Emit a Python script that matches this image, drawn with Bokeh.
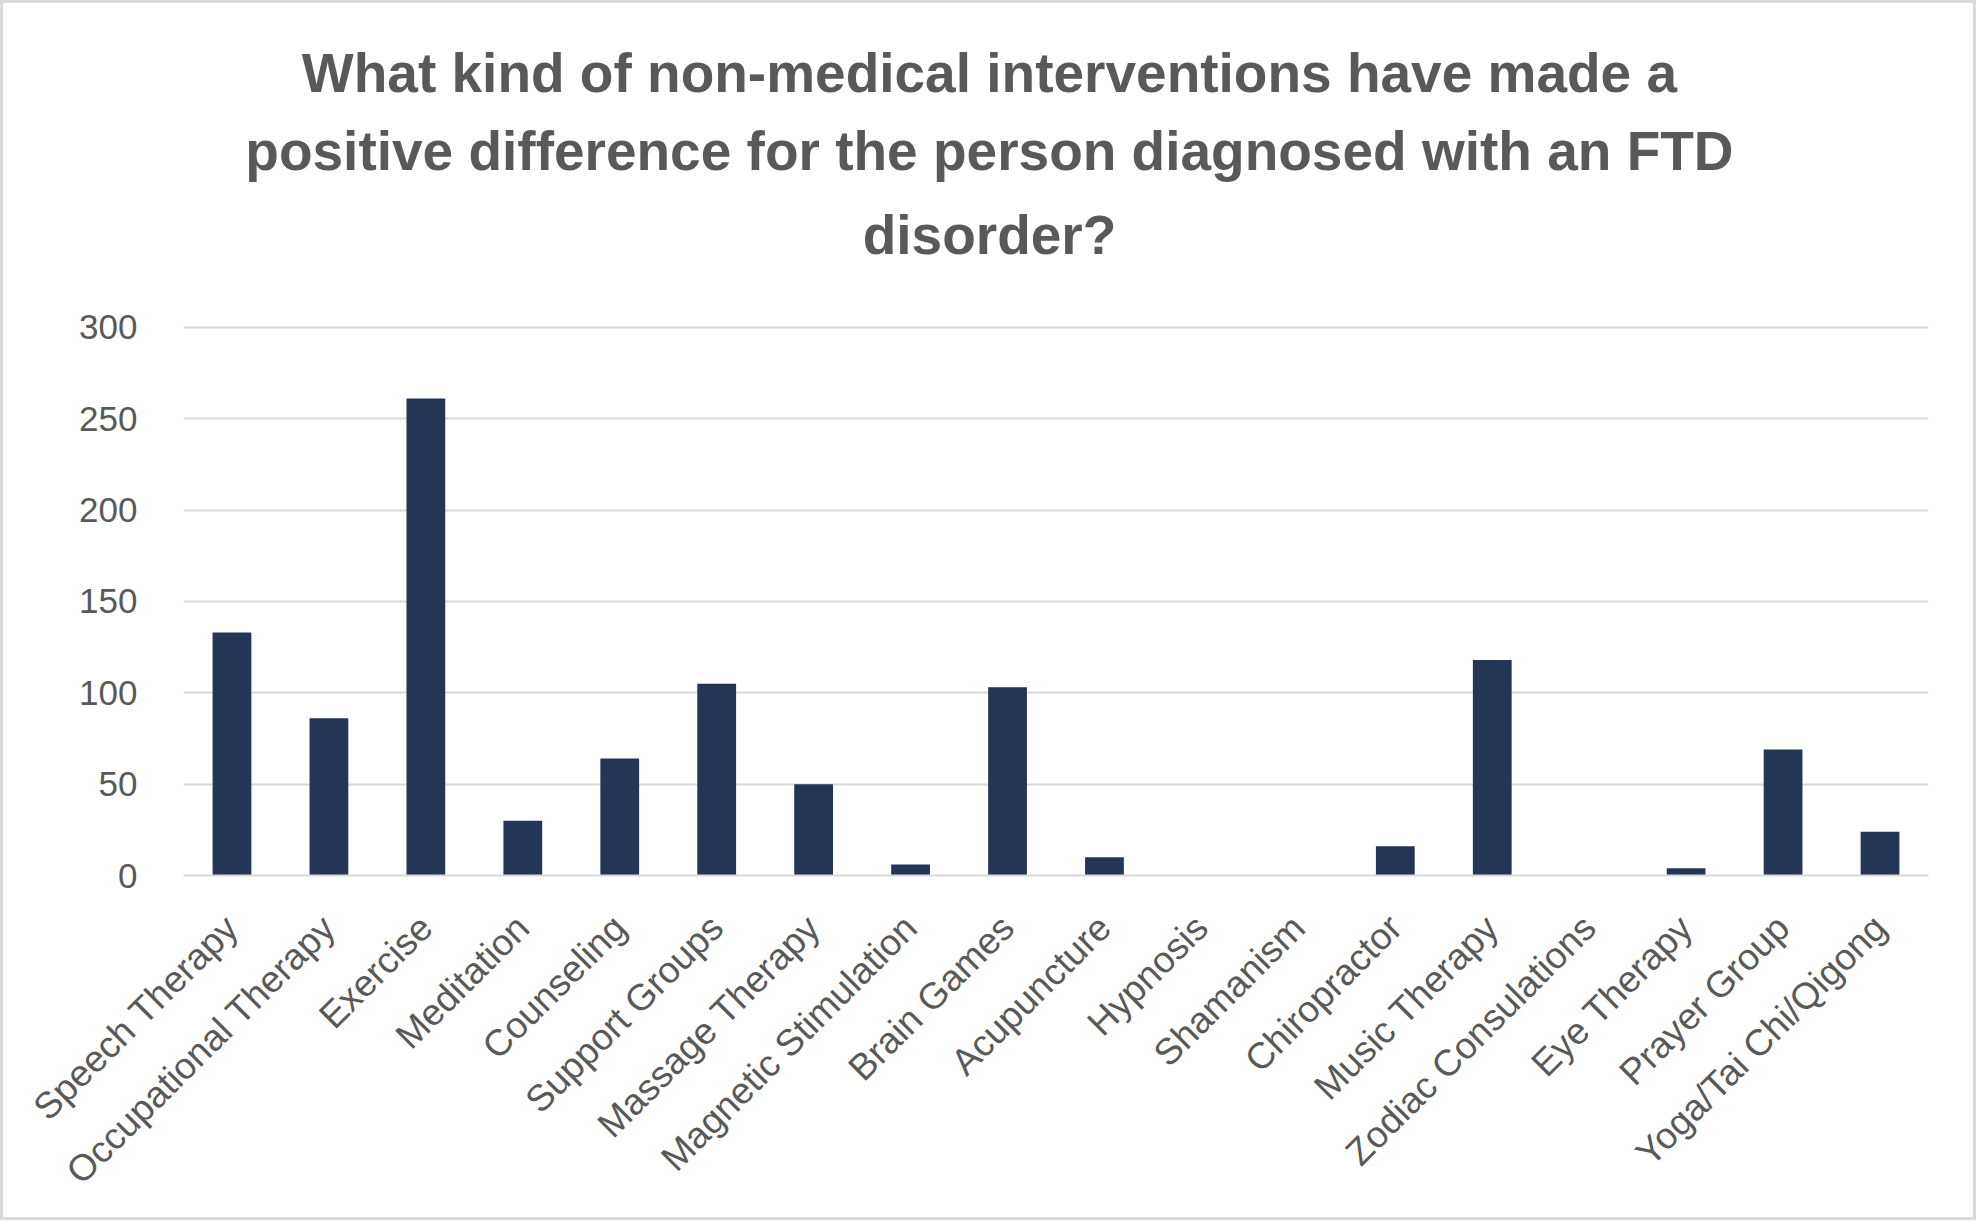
import math
from bokeh.plotting import figure
from bokeh.layouts import column
from bokeh.models import Range1d, FactorRange, Title, FixedTicker, ColumnDataSource
from bokeh.embed import file_html
from bokeh.resources import INLINE

title_lines = [
    "What kind of non-medical interventions have made a",
    "positive difference for the person diagnosed with an FTD",
    "disorder?",
]
categories = [
    "Speech Therapy", "Occupational Therapy", "Exercise", "Meditation",
    "Counseling", "Support Groups", "Massage Therapy", "Magnetic Stimulation",
    "Brain Games", "Acupuncture", "Hypnosis", "Shamanism", "Chiropractor",
    "Music Therapy", "Zodiac Consulations", "Eye Therapy", "Prayer Group",
    "Yoga/Tai Chi/Qigong",
]
values = [133, 86, 261, 30, 64, 105, 50, 6, 103, 10, 0, 0, 16, 118, 0, 4, 69, 24]
y_ticks = [0, 50, 100, 150, 200, 250, 300]

TEXT = "#595959"
GRID = "#D9D9D9"
BAR = "#243556"
FONT = "Liberation Sans"
TITLE_PX = 55

PAD = 3                                  # grey border around the chart
W, H = 1976 - 2 * PAD, 1220 - 2 * PAD    # inner size
TH = 281                                 # height of the title strip
FL, FR, FT, FB = 183, 1928, 325, 875     # frame edges in page pixels
CENTER = 989                             # page x of the title centre

# Arial/Liberation Sans Bold advance widths (em) to centre left-aligned titles
ADV = {" ": .278, "-": .333, "?": .611, "D": .722, "F": .611, "T": .611, "W": .944,
       "a": .556, "c": .556, "d": .611, "e": .556, "f": .333, "g": .611, "h": .611,
       "i": .278, "k": .556, "l": .278, "m": .889, "n": .611, "o": .611, "p": .611,
       "r": .389, "s": .556, "t": .333, "v": .556, "w": .778}

def text_width(s):
    return sum(ADV.get(ch, .556) for ch in s) * TITLE_PX

# ---- title strip
tfig = figure(width=W, height=TH, output_backend="svg", toolbar_location=None,
              x_axis_location=None, y_axis_location=None,
              min_border_left=FL - PAD, min_border_right=W + PAD - FR,
              min_border_top=TH - 5, min_border_bottom=0,
              border_fill_color="white", background_fill_color="white")
tfig.title.visible = False
tfig.grid.visible = False
tfig.outline_line_color = None
standoffs = [27, 14, 14]   # line 3 (nearest the frame) first
for line, s in zip(reversed(title_lines), standoffs):
    off = CENTER - text_width(line) / 2 - FL
    tfig.add_layout(Title(text=line, align="left", offset=off, text_font=FONT,
                          text_font_size=f"{TITLE_PX}px", text_font_style="bold",
                          text_color=TEXT, standoff=s), "above")

# ---- main chart
src = ColumnDataSource(dict(cat=categories, val=values))
ph = H - TH
top0 = PAD + TH
p = figure(
    x_range=FactorRange(*categories, range_padding=0),
    y_range=Range1d(0, 301),
    width=W, height=ph,
    output_backend="svg", toolbar_location=None,
    min_border_left=FL - PAD, min_border_right=W + PAD - FR,
    min_border_top=FT - top0, min_border_bottom=ph - (FB - top0),
    border_fill_color="white", background_fill_color="white",
)
p.title.visible = False

p.vbar(x="cat", top="val", width=0.4, source=src, fill_color=BAR, line_color=None)

p.outline_line_color = None
p.xgrid.visible = False
p.ygrid.grid_line_color = GRID
p.ygrid.grid_line_width = 2
p.yaxis.ticker = FixedTicker(ticks=y_ticks)
p.yaxis.axis_line_color = None
p.yaxis.major_tick_line_color = None
p.yaxis.minor_tick_line_color = None
p.yaxis.major_label_text_font = FONT
p.yaxis.major_label_text_font_size = "35px"
p.yaxis.major_label_text_color = TEXT
p.yaxis.major_label_standoff = 40

p.xaxis.axis_line_color = GRID
p.xaxis.axis_line_width = 2
p.xaxis.major_tick_line_color = None
p.xaxis.minor_tick_line_color = None
p.xaxis.major_label_orientation = math.pi / 4
p.xaxis.major_label_text_font = FONT
p.xaxis.major_label_text_font_size = "37px"
p.xaxis.major_label_text_color = TEXT
p.xaxis.major_label_standoff = 40

layout = column(tfig, p, spacing=0,
                styles={"background-color": "white", "padding": f"{PAD}px",
                        "box-shadow": f"inset 0 0 0 {PAD}px {GRID}"})

open("out.html", "w").write(file_html(layout, INLINE))
